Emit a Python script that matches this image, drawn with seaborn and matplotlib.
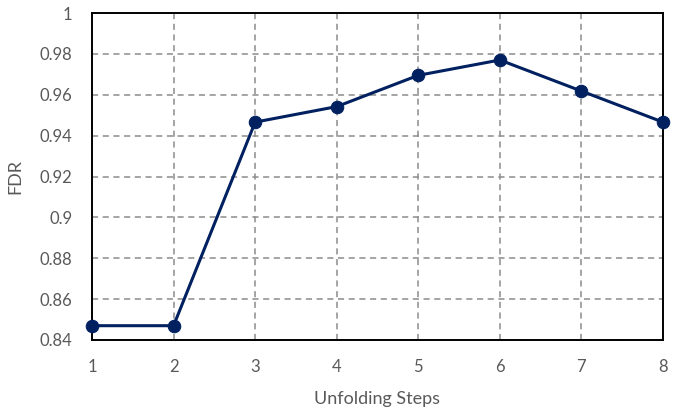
import numpy as np
import pandas as pd
import seaborn as sns
import matplotlib.pyplot as plt

steps = [1, 2, 3, 4, 5, 6, 7, 8]
fdr = [0.847, 0.847, 0.9466, 0.9542, 0.9695, 0.977, 0.9618, 0.9466]

df = pd.DataFrame({'Unfolding Steps': steps, 'FDR': fdr})

sns.set_style('white')
plt.rcParams['font.family'] = ['Lato', 'DejaVu Sans']

fig = plt.figure(figsize=(6.85, 4.13), dpi=100)
ax = fig.add_axes([92/685, 1 - 340/413, (663-92)/685, (340-13)/413])

sns.lineplot(data=df, x='Unfolding Steps', y='FDR', ax=ax, color='#002060',
             linewidth=2.2, marker='o', markersize=9, markeredgecolor='#002060',
             clip_on=False, zorder=5)

ax.set_xlim(1, 8)
ax.set_ylim(0.84, 1.0)
ax.set_xticks(steps)
ax.set_yticks(np.arange(0.84, 1.001, 0.02))
ax.set_yticklabels(['0.84', '0.86', '0.88', '0.9', '0.92', '0.94', '0.96', '0.98', '1'])

ax.grid(True, color='#8c8c8c', linestyle=(0, (4, 3)), linewidth=1.1)
for s in ax.spines.values():
    s.set_color('black')
    s.set_linewidth(1.4)

ax.tick_params(direction='in', length=5, width=1.2, color='black',
               labelcolor='#595959', labelsize=12)
ax.tick_params(axis='x', pad=14)
ax.tick_params(axis='y', pad=14)
ax.set_xlabel('Unfolding Steps', color='#595959', fontsize=13, labelpad=11)
ax.set_ylabel('FDR', color='#595959', fontsize=13, labelpad=12)

fig.savefig('out.png', dpi=100)
